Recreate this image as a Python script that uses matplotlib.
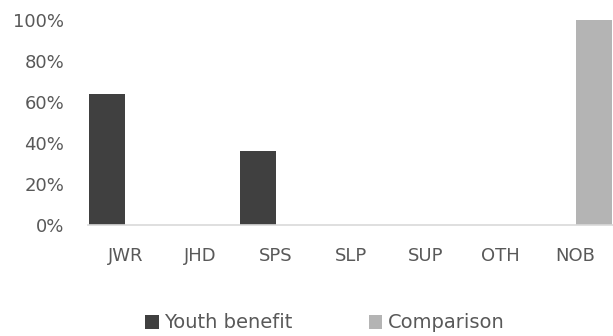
import matplotlib
matplotlib.use('Agg')
import matplotlib.pyplot as plt
import numpy as np
from matplotlib.ticker import PercentFormatter

categories = ['JWR', 'JHD', 'SPS', 'SLP', 'SUP', 'OTH', 'NOB']
youth_benefit = [64, 0, 36, 0, 0, 0, 0]
comparison = [0, 0, 0, 0, 0, 0, 100]
y_ticks = [0, 20, 40, 60, 80, 100]

plt.rcParams['font.family'] = ['DejaVu Sans']
text_color = '#595959'
fs = 13

fig = plt.figure(figsize=(6.13, 3.36), dpi=100)
ax = fig.add_axes([88 / 613, (336 - 225) / 336, 525 / 613, 205 / 336])

x = np.arange(len(categories))
w = 0.48
ax.bar(x - w / 2, youth_benefit, w, color='#404040', label='Youth benefit')
ax.bar(x + w / 2, comparison, w, color='#b4b4b4', label='Comparison')

ax.set_xlim(-0.5, len(categories) - 0.5)
ax.set_ylim(0, 100)
ax.set_yticks(y_ticks)
ax.yaxis.set_major_formatter(PercentFormatter(decimals=0))
ax.set_xticks(x)
ax.set_xticklabels(categories)

for s in ['top', 'right', 'left']:
    ax.spines[s].set_visible(False)
ax.spines['bottom'].set_color('#d9d9d9')
ax.spines['bottom'].set_linewidth(1.2)
ax.tick_params(axis='both', length=0, labelsize=fs, colors=text_color)
ax.tick_params(axis='x', pad=16)
ax.tick_params(axis='y', pad=17)

leg = fig.legend(loc='center', bbox_to_anchor=(0.53, (336 - 323) / 336), ncol=2,
                 frameon=False, fontsize=14, handlelength=0.7, handleheight=0.7,
                 handletextpad=0.3, columnspacing=3.9)
for t in leg.get_texts():
    t.set_color(text_color)

fig.savefig('out.png', dpi=100)
